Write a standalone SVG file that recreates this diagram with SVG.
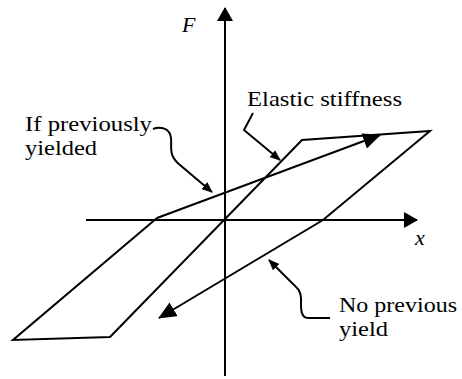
<svg xmlns="http://www.w3.org/2000/svg" width="462" height="379" viewBox="0 0 462 379">
<style>
.ln{fill:none;stroke:#000;stroke-width:2;stroke-linejoin:miter}
.lbl{font-family:"Liberation Serif","Times New Roman","DejaVu Serif",serif;font-size:21px;fill:#000}
.var{font-family:"Liberation Serif","Times New Roman","DejaVu Serif",serif;font-size:22px;font-style:italic;fill:#000}
</style>
<defs>
<marker id="big" markerUnits="userSpaceOnUse" markerWidth="18" markerHeight="16" refX="17" refY="8" orient="auto" viewBox="0 0 18 16">
<path d="M0,0 L18,8 L0,16 z" fill="#000"/>
</marker>
<marker id="ax" markerUnits="userSpaceOnUse" markerWidth="14" markerHeight="16" refX="13" refY="8" orient="auto" viewBox="0 0 14 16">
<path d="M0,0 L14,8 L0,16 z" fill="#000"/>
</marker>
<marker id="sm" markerUnits="userSpaceOnUse" markerWidth="11" markerHeight="9" refX="10" refY="4.5" orient="auto" viewBox="0 0 11 9">
<path d="M0,0 L11,4.5 L0,9 z" fill="#000"/>
</marker>
</defs>
<g id="axes">
<line class="ln" x1="225" y1="376" x2="225" y2="8" marker-end="url(#ax)"/>
<line class="ln" x1="86" y1="220" x2="417" y2="220" marker-end="url(#ax)"/>
</g>
<g id="axis-labels">
<text class="var" x="182" y="32">F</text>
<text class="var" x="415" y="245">x</text>
</g>
<g id="connectors">
<path id="loop" class="ln" d="M157,218 L13,340 L110,337 L302,140 L430,131 L323,220 L159,318" marker-end="url(#big)"/>
<path id="reload" class="ln" d="M157,218 L380,135" marker-end="url(#big)"/>
<path id="leader-yielded" class="ln" d="M153,129 C160,126 170,128 171,138 C172,148 168,155 180,165 L212,192" marker-end="url(#sm)"/>
<path id="leader-elastic" class="ln" d="M253,113 L244,130 L280,160" marker-end="url(#sm)"/>
<path id="leader-noyield" class="ln" d="M330,318 L308,318 C300,318 301,307 301,298 C301,290 296,287 290,281 L269,260" marker-end="url(#sm)"/>
</g>
<g id="label-yielded">
<text class="lbl" x="25" y="131" textLength="127" lengthAdjust="spacingAndGlyphs">If previously</text>
<text class="lbl" x="25" y="155" textLength="72" lengthAdjust="spacingAndGlyphs">yielded</text>
</g>
<g id="label-elastic">
<text class="lbl" x="247" y="106" textLength="155" lengthAdjust="spacingAndGlyphs">Elastic stiffness</text>
</g>
<g id="label-noyield">
<text class="lbl" x="339" y="312" textLength="118" lengthAdjust="spacingAndGlyphs">No previous</text>
<text class="lbl" x="339" y="336" textLength="49" lengthAdjust="spacingAndGlyphs">yield</text>
</g>
</svg>
